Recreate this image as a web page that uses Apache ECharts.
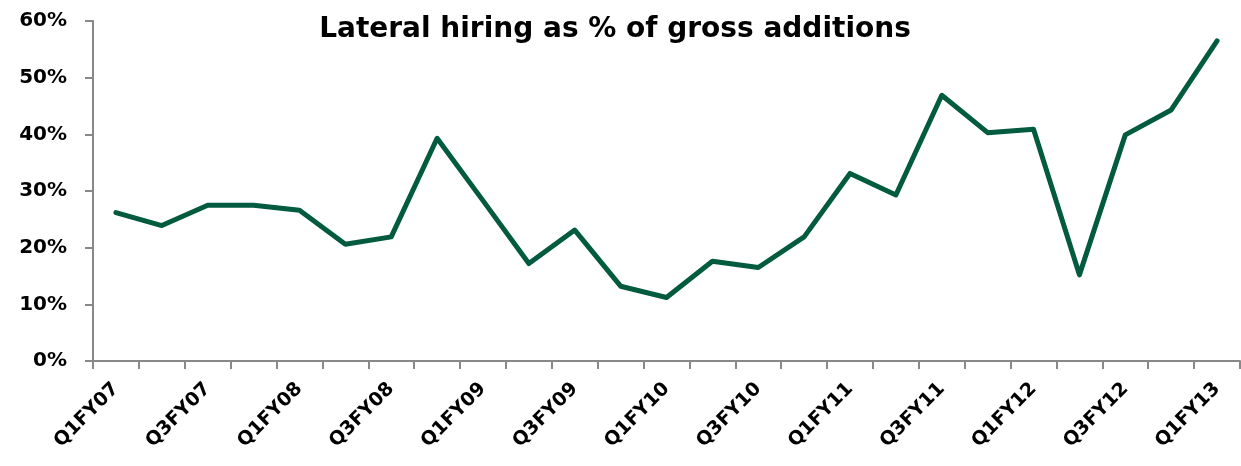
<!DOCTYPE html>
<html>
<head>
<meta charset="utf-8">
<script src="https://cdn.jsdelivr.net/npm/echarts@6/dist/echarts.min.js"></script>
<style>
  html, body { margin: 0; padding: 0; background: #fff; }
  #chart { width: 1241px; height: 466px; }
</style>
</head>
<body>
<div id="chart"></div>
<script>
// quarters, Q1FY07 .. Q1FY13
const quarters = [
  'Q1FY07', 'Q2FY07', 'Q3FY07', 'Q4FY07',
  'Q1FY08', 'Q2FY08', 'Q3FY08', 'Q4FY08',
  'Q1FY09', 'Q2FY09', 'Q3FY09', 'Q4FY09',
  'Q1FY10', 'Q2FY10', 'Q3FY10', 'Q4FY10',
  'Q1FY11', 'Q2FY11', 'Q3FY11', 'Q4FY11',
  'Q1FY12', 'Q2FY12', 'Q3FY12', 'Q4FY12',
  'Q1FY13'
];

// lateral hires as % of gross additions
const lateralPct = [
  26.2, 23.9, 27.5, 27.5,
  26.6, 20.6, 21.9, 39.3,
  28.3, 17.2, 23.1, 13.2,
  11.2, 17.6, 16.5, 21.9,
  33.1, 29.3, 46.9, 40.3,
  40.9, 15.2, 39.9, 44.3,
  56.5
];

const yTicks = [0, 10, 20, 30, 40, 50, 60];

const font = '"DejaVu Sans", sans-serif';
const axisGrey = '#888888';

const chart = echarts.init(document.getElementById('chart'), null, { renderer: 'canvas' });

chart.setOption({
  backgroundColor: '#ffffff',
  animation: false,
  title: {
    text: 'Lateral hiring as % of gross additions',
    left: 610,
    top: 11,
    textAlign: 'center',
    textStyle: { fontFamily: font, fontWeight: 'bold', fontSize: 28, color: '#000' }
  },
  grid: { left: 93, right: 1, top: 21, bottom: 105, containLabel: false },
  xAxis: {
    type: 'category',
    data: quarters,
    boundaryGap: true,
    axisLine: { lineStyle: { color: axisGrey, width: 2 } },
    axisTick: { show: true, interval: 0, length: 8, lineStyle: { color: axisGrey, width: 2 } },
    axisLabel: {
      interval: 1,
      rotate: 45,
      margin: 25,
      fontFamily: font,
      fontWeight: 'bold',
      fontSize: 19,
      color: '#000'
    },
    splitLine: { show: false }
  },
  yAxis: {
    type: 'value',
    min: yTicks[0],
    max: yTicks[yTicks.length - 1],
    interval: 10,
    axisLine: { show: true, lineStyle: { color: axisGrey, width: 2 } },
    axisTick: { show: true, length: 8, lineStyle: { color: axisGrey, width: 2 } },
    axisLabel: {
      margin: 26,
      formatter: v => v + '%',
      fontFamily: font,
      fontWeight: 'bold',
      fontSize: 20,
      color: '#000'
    },
    splitLine: { show: false }
  },
  series: [{
    type: 'line',
    data: lateralPct,
    showSymbol: false,
    symbol: 'none',
    lineStyle: { color: '#025b3e', width: 5, join: 'round', cap: 'round' }
  }]
});
</script>
</body>
</html>
